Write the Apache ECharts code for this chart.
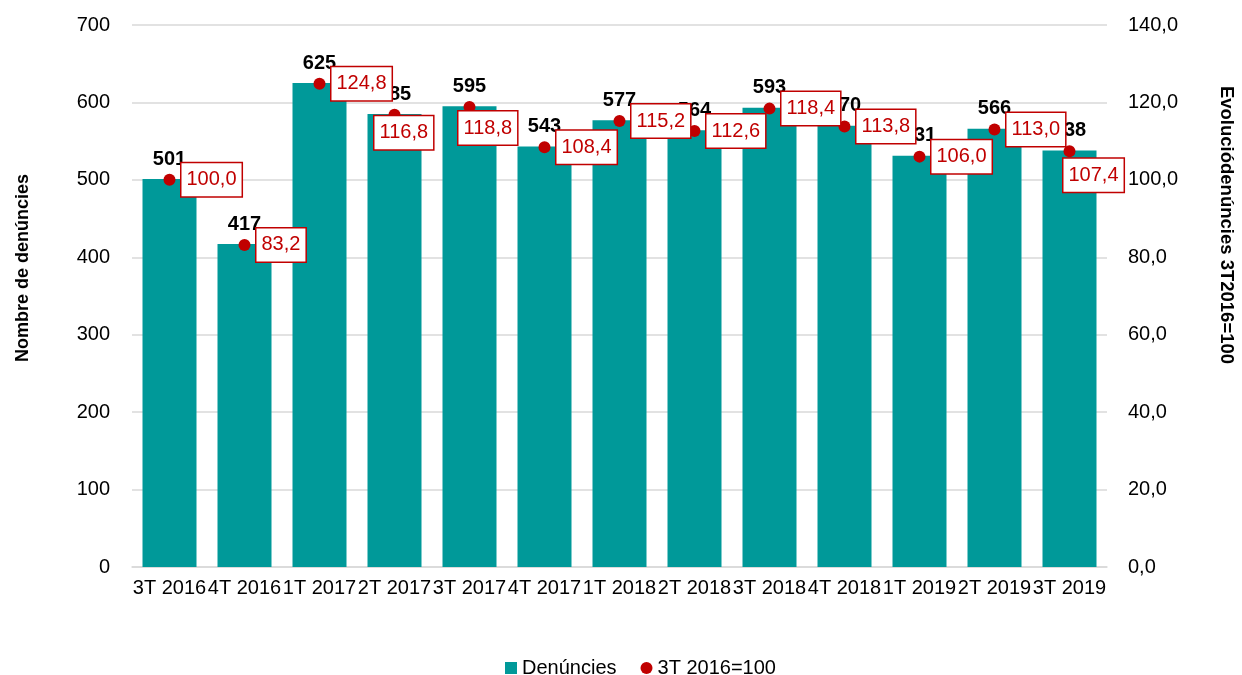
<!DOCTYPE html>
<html><head><meta charset="utf-8">
<script src="https://cdn.jsdelivr.net/npm/echarts@6/dist/echarts.min.js"></script>
<style>html,body{margin:0;padding:0;background:#fff}#c{width:1242px;height:675px}</style>
</head><body><div id="c"></div>
<script>
const categories = ['3T 2016','4T 2016','1T 2017','2T 2017','3T 2017','4T 2017','1T 2018','2T 2018','3T 2018','4T 2018','1T 2019','2T 2019','3T 2019'];
const denuncies = [501, 417, 625, 585, 595, 543, 577, 564, 593, 570, 531, 566, 538];
const evolucio = [100.0, 83.2, 124.8, 116.8, 118.8, 108.4, 115.2, 112.6, 118.4, 113.8, 106.0, 113.0, 107.4];
const leftTicks = {min: 0, max: 700, interval: 100};
const rightTicks = {min: 0, max: 140, interval: 20};

const FONT = "'Liberation Sans',Arial,sans-serif";
const labelOffsets = {3: [-32, 18], 4: [-23, 21], 12: [-18, 24]};
const fmt = v => v.toFixed(1).replace('.', ',');

const chart = echarts.init(document.getElementById('c'), null, {renderer: 'canvas'});
chart.setOption({
  animation: false,
  textStyle: {fontFamily: FONT},
  grid: {left: 132, right: 135, top: 25, bottom: 108},
  legend: {
    top: 653, left: 500, itemGap: 24, itemWidth: 12, itemHeight: 12,
    textStyle: {fontFamily: FONT, fontSize: 20, color: '#000'},
    data: [{name: 'Denúncies', icon: 'rect'}, {name: '3T 2016=100', icon: 'circle'}]
  },
  xAxis: {
    type: 'category', data: categories,
    axisLine: {lineStyle: {color: '#d9d9d9', width: 1.5}},
    axisTick: {show: false},
    axisLabel: {interval: 0, margin: 11, color: '#000', fontSize: 20, fontFamily: FONT}
  },
  yAxis: [{
    type: 'value', min: leftTicks.min, max: leftTicks.max, interval: leftTicks.interval,
    axisLine: {show: false}, axisTick: {show: false},
    splitLine: {lineStyle: {color: '#d9d9d9', width: 1.5}},
    axisLabel: {margin: 22, color: '#000', fontSize: 20, fontFamily: FONT}
  }, {
    type: 'value', min: rightTicks.min, max: rightTicks.max, interval: rightTicks.interval,
    axisLine: {show: false}, axisTick: {show: false}, splitLine: {show: false},
    axisLabel: {margin: 21, color: '#000', fontSize: 20, fontFamily: FONT, formatter: v => fmt(v)}
  }],
  graphic: [{
    type: 'text', x: 23, y: 268, rotation: Math.PI / 2,
    style: {text: 'Nombre de denúncies', fontFamily: FONT, fontSize: 18, fontWeight: 'bold', fill: '#000', align: 'center', verticalAlign: 'middle'}
  }, {
    type: 'text', x: 1226, y: 225, rotation: -Math.PI / 2,
    style: {text: 'Evoluciódenúncies 3T2016=100', fontFamily: FONT, fontSize: 18.5, fontWeight: 'bold', fill: '#000', align: 'center', verticalAlign: 'middle'}
  }],
  series: [{
    name: 'Denúncies', type: 'bar', data: denuncies, barCategoryGap: '28%',
    itemStyle: {color: '#009999'}, z: 2,
    label: {show: true, position: 'top', distance: 10, color: '#000', fontWeight: 'bold', fontSize: 20, fontFamily: FONT}
  }, {
    name: '3T 2016=100', type: 'scatter', yAxisIndex: 1, z: 5,
    symbol: 'circle', symbolSize: 12, itemStyle: {color: '#C00000', opacity: 1},
    data: evolucio.map((v, i) => ({
      value: v,
      label: labelOffsets[i] ? {offset: labelOffsets[i]} : undefined
    })),
    label: {
      show: true, position: 'right', distance: 6,
      formatter: p => fmt(p.value),
      color: '#C00000', fontSize: 20, fontFamily: FONT, opacity: 1,
      backgroundColor: '#fff', borderColor: '#C00000', borderWidth: 1.5,
      padding: [7, 5, 6, 5]
    }
  }]
});
</script></body></html>
